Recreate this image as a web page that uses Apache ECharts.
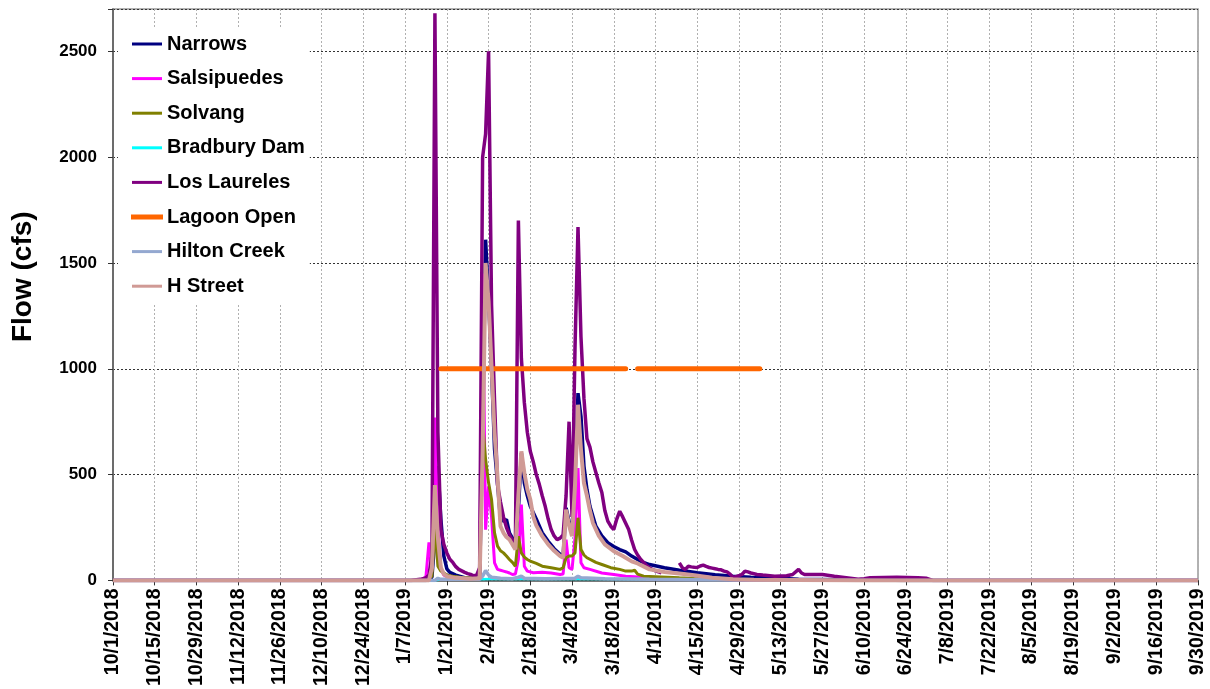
<!DOCTYPE html>
<html>
<head>
<meta charset="utf-8">
<script src="https://cdn.jsdelivr.net/npm/echarts@6/dist/echarts.min.js"></script>
<style>
html,body{margin:0;padding:0;background:#fff;}
#chart{width:1210px;height:689px;}
</style>
</head>
<body>
<div id="chart"></div>
<script>
// x = day index counted from 10/1/2018
const tickLabels = ["10/1/2018","10/15/2018","10/29/2018","11/12/2018","11/26/2018","12/10/2018","12/24/2018","1/7/2019","1/21/2019","2/4/2019","2/18/2019","3/4/2019","3/18/2019","4/1/2019","4/15/2019","4/29/2019","5/13/2019","5/27/2019","6/10/2019","6/24/2019","7/8/2019","7/22/2019","8/5/2019","8/19/2019","9/2/2019","9/16/2019","9/30/2019"];
const seriesNames = ["Narrows","Salsipuedes","Solvang","Bradbury Dam","Los Laureles","Lagoon Open","Hilton Creek","H Street"];

const narrows = [[0,0],[105,0],[107,15],[108,200],[109,540],[110,290],[111,115],[112,55],[113,38],[115,25],[118,13],[122,8],[123,10],[124,700],[125,1610],[126,1330],[127,1000],[128,620],[129,460],[130,290],[131,280],[132,288],[133,225],[134,200],[135,178],[136,330],[137,602],[138,460],[139,400],[140,350],[142,290],[144,225],[146,185],[148,150],[150,123],[151,115],[152,343],[153,280],[154,225],[155,500],[156,885],[157,775],[158,540],[159,430],[160,350],[162,256],[164,210],[166,178],[168,160],[170,146],[172,135],[174,115],[177,90],[180,75],[185,60],[190,48],[196,36],[202,27],[208,20],[214,15],[219,13],[225,9],[230,5],[245,3],[260,2],[265,0],[364,0]];
const salsipuedes = [[0,0],[100,0],[104,5],[105,20],[106,180],[107,40],[108,770],[109,250],[110,52],[111,25],[113,12],[118,6],[123,5],[124,1450],[125,240],[126,445],[127,300],[128,83],[129,52],[130,48],[131,44],[132,40],[133,35],[134,28],[135,30],[136,100],[137,358],[138,67],[139,44],[141,36],[144,39],[147,35],[150,28],[151,30],[152,193],[153,60],[154,52],[155,200],[156,531],[157,83],[158,60],[160,52],[164,35],[168,28],[172,20],[178,15],[185,10],[195,6],[210,3],[230,0],[364,0]];
const solvang = [[0,0],[105,0],[107,20],[108,256],[109,67],[110,44],[112,25],[114,20],[118,12],[123,10],[124,744],[125,571],[126,461],[127,382],[128,225],[129,162],[130,140],[131,130],[132,115],[133,99],[134,85],[135,67],[136,209],[137,130],[138,110],[139,99],[140,91],[142,80],[144,67],[147,60],[150,52],[151,60],[152,107],[153,115],[154,115],[155,130],[156,296],[157,146],[158,120],[159,107],[162,85],[164,75],[167,60],[170,52],[172,44],[174,44],[175,48],[176,30],[178,20],[184,16],[190,12],[195,9],[205,5],[220,3],[240,0],[364,0]];
const bradburyDam = [[0,0],[108,0],[110,5],[123,5],[130,8],[145,7],[165,7],[180,5],[200,3],[230,2],[260,0],[364,0]];
const losLaureles = [[0,0],[100,0],[103,5],[105,12],[106,25],[107,120],[108,2680],[109,700],[110,240],[111,170],[112,130],[113,100],[114,85],[115,65],[116,52],[117,45],[118,38],[119,32],[120,28],[121,22],[122,25],[123,60],[124,2000],[125,2110],[126,2500],[127,1300],[128,850],[129,450],[130,370],[131,300],[132,250],[133,215],[134,190],[135,178],[136,1700],[137,1050],[138,840],[139,700],[140,610],[141,560],[142,500],[143,455],[144,400],[145,350],[146,290],[147,240],[148,210],[149,193],[150,200],[151,215],[152,400],[153,750],[154,300],[155,1100],[156,1670],[157,1150],[158,860],[159,670],[160,630],[161,560],[162,510],[163,460],[164,415],[165,330],[166,280],[167,256],[168,240],[169,290],[170,327],[171,300],[172,270],[173,240],[174,190],[175,146],[176,120],[177,100],[178,85],[179,70],[180,60],[181,52],[182,45],[183,40],[184,36],[186,'-'],[190,83],[191,60],[192,52],[193,67],[194,64],[195,62],[196,61],[197,68],[198,72],[199,66],[200,61],[201,58],[202,55],[203,52],[204,50],[205,44],[206,40],[207,30],[208,14],[209,18],[210,22],[211,28],[212,44],[213,40],[214,35],[215,32],[216,28],[218,25],[222,20],[226,22],[228,28],[230,52],[231,35],[232,28],[238,28],[242,20],[246,13],[250,5],[252,8],[254,13],[263,15],[270,12],[273,10],[275,0],[364,0]];
const lagoonOpen = [[110,1000],[172,1000],[174,'-'],[176,1000],[217,1000]];
const hiltonCreek = [[0,0],[108,0],[109,10],[110,5],[123,5],[124,20],[125,47],[126,25],[127,15],[130,10],[134,8],[136,15],[137,20],[138,10],[145,8],[155,10],[156,20],[157,12],[165,8],[180,5],[200,3],[230,2],[260,0],[364,0]];
const hStreet = [[0,0],[106,0],[107,60],[108,450],[109,200],[110,60],[111,30],[112,20],[115,12],[120,8],[123,10],[124,600],[125,1500],[126,1320],[127,1010],[128,700],[129,490],[130,256],[131,225],[132,205],[133,193],[134,170],[135,146],[136,400],[137,610],[138,508],[139,430],[140,382],[141,300],[142,260],[144,209],[146,170],[148,140],[150,115],[151,107],[152,335],[153,260],[154,209],[155,450],[156,830],[157,618],[158,460],[159,400],[160,330],[161,272],[163,210],[165,170],[168,138],[171,115],[174,90],[176,80],[180,52],[185,40],[190,33],[195,24],[201,13],[208,5],[215,3],[230,2],[250,0],[364,0]];

const seriesData = [narrows, salsipuedes, solvang, bradburyDam, losLaureles, lagoonOpen, hiltonCreek, hStreet];
const colors = ["#000080","#FF00FF","#808000","#00FFFF","#800080","#FF6600","#94A8D0","#D09A95"];
const widths = [3.5,3,3,2.5,3.5,5,3.5,4];

const chart = echarts.init(document.getElementById('chart'), null, {renderer:'canvas'});
const series = seriesNames.map((n,i)=>({
  name:n, type:'line', data:seriesData[i], showSymbol:false, symbol:'none',
  connectNulls:false, animation:false,
  lineStyle:{color:colors[i], width:widths[i], cap: i===5 ? 'round' : 'butt'},
  itemStyle:{color:colors[i]}
}));

const legendData = seriesNames.map((n,i)=> i===5
  ? {name:n, icon:'rect', itemStyle:{color:colors[i], borderColor:colors[i], borderWidth:2}}
  : {name:n, icon:'rect', itemStyle:{color:colors[i], borderWidth:0}});

chart.setOption({
  animation:false,
  backgroundColor:'#ffffff',
  grid:{left:113, right:12, top:9, bottom:108, show:true, borderColor:'#999', borderWidth:1.5, backgroundColor:'transparent'},
  legend:{
    data:legendData, orient:'vertical', left:118, top:27,
    backgroundColor:'#ffffff', padding:[7,5,7,13],
    itemWidth:30, itemHeight:3, itemGap:14.6, itemStyle:{borderWidth:0},
    textStyle:{fontFamily:'Liberation Sans, Arial', fontWeight:'bold', fontSize:20, color:'#000'},
    selectedMode:false
  },
  xAxis:{
    type:'value', min:0, max:364, interval:14,
    axisLine:{show:true, lineStyle:{color:'#555', width:1.5}},
    axisTick:{show:true, length:5, lineStyle:{color:'#333'}},
    splitLine:{show:true, lineStyle:{color:'#b0b0b0', type:[2,2], width:1}},
    axisLabel:{
      rotate:90, margin:8, fontFamily:'Liberation Sans, Arial', fontWeight:'bold', fontSize:19.5, color:'#000',
      showMinLabel:true, showMaxLabel:true,
      formatter:(v)=> tickLabels[Math.round(v/14)] || ''
    }
  },
  yAxis:{
    type:'value', min:0, max:2700, interval:500,
    name:'Flow (cfs)', nameLocation:'middle', nameGap:76, nameRotate:90,
    nameTextStyle:{fontFamily:'Liberation Sans, Arial', fontWeight:'bold', fontSize:28, color:'#000', padding:[0,0,0,36]},
    axisLine:{show:true, lineStyle:{color:'#555', width:1.5}},
    axisTick:{show:true, length:5, lineStyle:{color:'#333'}},
    splitLine:{show:true, lineStyle:{color:'#333', type:[2,2], width:1}},
    axisLabel:{margin:16, fontFamily:'Liberation Sans, Arial', fontWeight:'bold', fontSize:17, color:'#000',
      formatter:(v)=> (v%500===0 ? String(v) : '')}
  },
  series:series
});
</script>
</body>
</html>
